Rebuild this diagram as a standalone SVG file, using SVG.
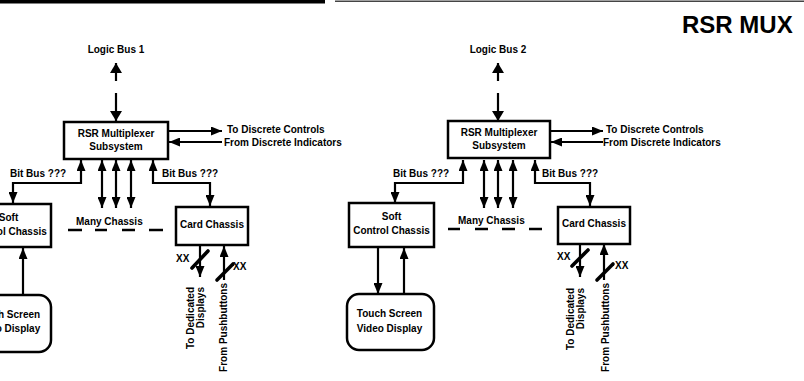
<svg xmlns="http://www.w3.org/2000/svg" width="804" height="381" viewBox="0 0 804 381">
<style>
.box{fill:#fff;stroke:#000;stroke-width:2.5}
.c{fill:none;stroke:#000;stroke-width:2.2}
.a{marker-end:url(#ah)}
.b{marker-start:url(#ah);marker-end:url(#ah)}
.big{marker-end:url(#ahb)}
.sl{stroke:#000;stroke-width:3.6;stroke-linecap:round}
.dash{stroke:#000;stroke-width:2.5}
text{font-family:"Liberation Sans",Arial,Helvetica,sans-serif;font-weight:bold;font-size:10px;fill:#000}
.m{text-anchor:middle}
.e{text-anchor:end}
</style>
<defs>
<marker id="ah" viewBox="0 0 11 9" refX="11" refY="4.5" markerWidth="11" markerHeight="9" markerUnits="userSpaceOnUse" orient="auto-start-reverse"><path d="M0,0 L11,4.5 L0,9 z"/></marker>
<marker id="ahb" viewBox="0 0 10 12" refX="10" refY="6" markerWidth="10" markerHeight="12" markerUnits="userSpaceOnUse" orient="auto-start-reverse"><path d="M0,0 L10,6 L0,12 z"/></marker>
</defs>
<rect x="0" y="0" width="325" height="3.5" fill="#000"/>
<line x1="335" y1="1.2" x2="804" y2="1.2" stroke="#444" stroke-width="1.6"/>
<text id="title" x="682" y="33" style="font-size:24px">RSR MUX</text>

<g id="left">
<g id="connectors-1">
<line class="c big" x1="116" y1="81" x2="116" y2="63"/>
<line class="c big" x1="116" y1="93" x2="116" y2="121"/>
<line class="c a" x1="168" y1="131" x2="222" y2="131"/>
<line class="c a" x1="222" y1="142" x2="169" y2="142"/>
<polyline class="c b" points="13,203 13,183 81,183 81,160"/>
<line class="c b" x1="102" y1="160" x2="102" y2="208"/>
<line class="c b" x1="116" y1="160" x2="116" y2="208"/>
<line class="c b" x1="131" y1="160" x2="131" y2="208"/>
<polyline class="c b" points="210,206 210,183 153,183 153,160"/>
<line class="c a" x1="23" y1="295" x2="23" y2="248"/>
<line class="c a" x1="200" y1="246" x2="200" y2="277"/>
<line class="sl" x1="192" y1="268" x2="208" y2="251"/>
<line class="c a" x1="224" y1="280" x2="224" y2="246"/>
<line class="sl" x1="217" y1="280" x2="233" y2="264"/>
<text x="116" y="53" class="m">Logic Bus  1</text>
<text x="227" y="133">To Discrete Controls</text>
<text x="224" y="146">From Discrete Indicators</text>
<text x="10" y="177">Bit Bus ???</text>
<text x="162" y="177">Bit Bus ???</text>
<text x="176" y="262">XX</text>
<text x="233" y="270">XX</text>
<text transform="translate(194,287) rotate(-90)" class="e">To Dedicated</text>
<text transform="translate(204,287) rotate(-90)" class="e">Displays</text>
<text transform="translate(227,283) rotate(-90)" class="e">From Pushbuttons</text>
</g>
<g id="rsr-1">
<rect class="box" x="64" y="122" width="104" height="37"/>
<text x="116" y="137" class="m">RSR Multiplexer</text>
<text x="116" y="150" class="m">Subsystem</text>
</g>
<g id="soft-1">
<rect class="box" x="-34" y="204" width="85" height="43"/>
<text x="8.5" y="221" class="m">Soft</text>
<text x="8.5" y="235" class="m">Control Chassis</text>
</g>
<g id="touch-1">
<rect class="box" x="-36" y="295" width="87" height="57" rx="12"/>
<text x="7.5" y="318" class="m">Touch Screen</text>
<text x="7.5" y="332" class="m">Video Display</text>
</g>
<g id="many-1">
<text x="76" y="225">Many Chassis</text>
<line class="dash" x1="68" y1="230" x2="82" y2="230"/>
<line class="dash" x1="95" y1="230" x2="107" y2="230"/>
<line class="dash" x1="122" y1="230" x2="135" y2="230"/>
<line class="dash" x1="149" y1="230" x2="163" y2="230"/>
</g>
<g id="card-1">
<rect class="box" x="176" y="207" width="72" height="38"/>
<text x="212" y="228" class="m">Card Chassis</text>
</g>
</g>

<g id="right" transform="translate(382,0)">
<g id="connectors-2">
<line class="c big" x1="116" y1="81" x2="116" y2="63"/>
<line class="c big" x1="116" y1="93" x2="116" y2="121"/>
<line class="c a" x1="168" y1="131" x2="221" y2="131"/>
<line class="c a" x1="221" y1="142" x2="169" y2="142"/>
<polyline class="c b" points="13,203 13,183 81,183 81,160"/>
<line class="c b" x1="102" y1="160" x2="102" y2="208"/>
<line class="c b" x1="116" y1="160" x2="116" y2="208"/>
<line class="c b" x1="131" y1="160" x2="131" y2="208"/>
<polyline class="c b" points="208,206 208,183 153,183 153,160"/>
<line class="c a" x1="-4" y1="248" x2="-4" y2="294"/>
<line class="c a" x1="22" y1="294" x2="22" y2="248"/>
<line class="c a" x1="198" y1="244" x2="198" y2="277"/>
<line class="sl" x1="190" y1="266" x2="206" y2="250"/>
<line class="c a" x1="222" y1="280" x2="222" y2="244"/>
<line class="sl" x1="215" y1="280" x2="231" y2="264"/>
<text x="116" y="53" class="m">Logic Bus  2</text>
<text x="224" y="133">To Discrete Controls</text>
<text x="221" y="146">From Discrete Indicators</text>
<text x="11" y="177">Bit Bus ???</text>
<text x="160" y="177">Bit Bus ???</text>
<text x="175" y="260">XX</text>
<text x="233" y="269">XX</text>
<text transform="translate(192,288) rotate(-90)" class="e">To Dedicated</text>
<text transform="translate(202,288) rotate(-90)" class="e">Displays</text>
<text transform="translate(227,283) rotate(-90)" class="e">From Pushbuttons</text>
</g>
<g id="rsr-2">
<rect class="box" x="66" y="121" width="102" height="37"/>
<text x="117" y="136" class="m">RSR Multiplexer</text>
<text x="117" y="149" class="m">Subsystem</text>
</g>
<g id="soft-2">
<rect class="box" x="-33" y="203" width="85" height="44"/>
<text x="9.5" y="220" class="m">Soft</text>
<text x="9.5" y="234" class="m">Control Chassis</text>
</g>
<g id="touch-2">
<rect class="box" x="-35" y="294" width="87" height="56" rx="12"/>
<text x="7.5" y="317" class="m">Touch Screen</text>
<text x="7.5" y="332" class="m">Video Display</text>
</g>
<g id="many-2">
<text x="76" y="224">Many Chassis</text>
<line class="dash" x1="66" y1="229" x2="78" y2="229"/>
<line class="dash" x1="93" y1="229" x2="106" y2="229"/>
<line class="dash" x1="120" y1="229" x2="133" y2="229"/>
<line class="dash" x1="147" y1="229" x2="160" y2="229"/>
</g>
<g id="card-2">
<rect class="box" x="176" y="207" width="72" height="37"/>
<text x="212" y="227" class="m">Card Chassis</text>
</g>
</g>
</svg>
